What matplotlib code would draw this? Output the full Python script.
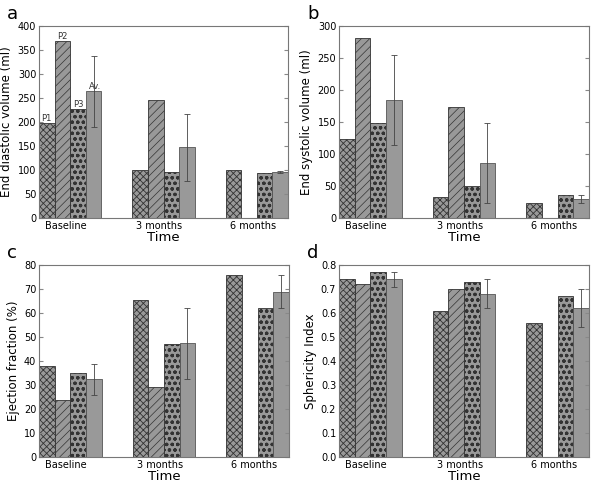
import matplotlib
matplotlib.use("Agg")
from matplotlib import pyplot as plt
import numpy as np

# groups and series
times = ["Baseline", "3 months", "6 months"]
names = ["P1", "P2", "P3", "Av."]

edv_p1 = [197, 99, 99]
edv_p2 = [368, 245, 0]
edv_p3 = [228, 96, 94]
edv_av = [264, 147, 96]
edv_sd = [74, 70, 2]

esv_p1 = [123, 33, 24]
esv_p2 = [281, 173, 0]
esv_p3 = [148, 50, 36]
esv_av = [184, 86, 30]
esv_sd = [70, 63, 6]

ef_p1 = [38.0, 65.3, 75.8]
ef_p2 = [23.7, 29.3, 0]
ef_p3 = [35.2, 47.0, 62.0]
ef_av = [32.3, 47.3, 68.9]
ef_sd = [6.3, 14.8, 7.0]

si_p1 = [0.74, 0.61, 0.56]
si_p2 = [0.72, 0.70, 0]
si_p3 = [0.77, 0.73, 0.67]
si_av = [0.74, 0.68, 0.62]
si_sd = [0.03, 0.06, 0.08]

plt.rcParams['font.family'] = 'DejaVu Sans'

fig = plt.figure(figsize=(6.0, 4.88), dpi=100)

W = 600.0
H = 488.0
boxes = [(39, 26, 288, 218), (339, 26, 589, 218), (39, 265, 289, 457), (339, 265, 589, 457)]
letters = ["a", "b", "c", "d"]
ylabels = ["End diastolic volume (ml)", "End systolic volume (ml)", "Ejection fraction (%)", "Sphericity Index"]
ylims = [(0, 400), (0, 300), (0, 80), (0, 0.8)]
yticks = [np.arange(0, 401, 50), np.arange(0, 301, 50), np.arange(0, 81, 10), np.arange(0, 0.81, 0.1)]
data = [(edv_p1, edv_p2, edv_p3, edv_av, edv_sd),
        (esv_p1, esv_p2, esv_p3, esv_av, esv_sd),
        (ef_p1, ef_p2, ef_p3, ef_av, ef_sd),
        (si_p1, si_p2, si_p3, si_av, si_sd)]
hatches = ['xxxxx', '////', 'ooo', None]
hatch_lw = [0.6, 0.5, 0.9, 0.5]

width = 0.167
ind = np.arange(len(times))

for k in range(4):
    l, t, r, b = boxes[k]
    ax = fig.add_axes([l / W, 1 - b / H, (r - l) / W, (b - t) / H])
    p1, p2, p3, av, sd = data[k]
    series = [p1, p2, p3, av]
    for j in range(4):
        if j == 3:
            ax.bar(ind + j * width, series[j], width, align='edge', color='#999999',
                   edgecolor='#555555', linewidth=0.6,
                   yerr=sd, ecolor='#444444', capsize=2,
                   error_kw=dict(elinewidth=0.6, capthick=0.6))
        else:
            with plt.rc_context({'hatch.linewidth': hatch_lw[j]}):
                bars = ax.bar(ind + j * width, series[j], width, align='edge', color='#999999',
                              edgecolor='#333333', linewidth=0.6, hatch=hatches[j])
            for p in bars:
                if hasattr(p, 'set_hatch_linewidth'):
                    p.set_hatch_linewidth(hatch_lw[j])
    if k == 0:
        for j in range(4):
            dx = 0.02 if j == 3 else 0.0
            ax.text(j * width + width / 2 + dx, series[j][0], names[j], ha='center',
                    va='bottom', fontsize=6, color='#333333')
    ax.set_xlim(0, 2 + 4 * width)
    ax.set_ylim(*ylims[k])
    ax.set_yticks(yticks[k])
    if k == 3:
        ax.set_yticklabels(["%.1f" % v for v in yticks[k]])
    ax.set_xticks(ind + 0.29)
    ax.set_xticklabels(times)
    ax.tick_params(direction='in', length=3, labelsize=7, top=True, right=True,
                   color='#888888', pad=2)
    ax.tick_params(axis='x', length=0, pad=2)
    for s in ax.spines.values():
        s.set_color('#777777')
        s.set_linewidth(0.8)
    ax.set_xlabel("Time", fontsize=9.5, labelpad=0)
    ax.set_ylabel(ylabels[k], fontsize=8.5, labelpad=3)
    fig.text((l - 32) / W, 1 - (t - 12) / H, letters[k], fontsize=13, va='center', ha='left')

fig.savefig("out.png", dpi=100)
